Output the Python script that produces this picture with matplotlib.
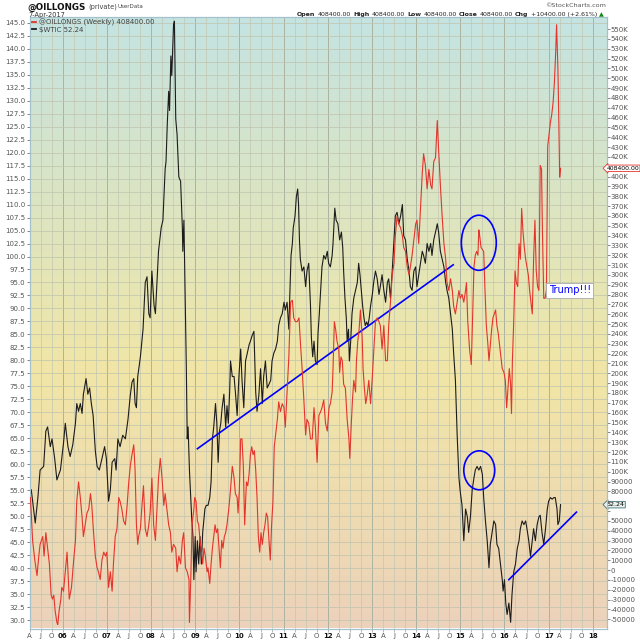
import matplotlib
matplotlib.use('Agg')
import matplotlib.pyplot as plt
import matplotlib.transforms as mtransforms
from matplotlib.patches import Ellipse
from matplotlib.lines import Line2D
from matplotlib.colors import to_rgb
import numpy as np

# ---- values, x is the fractional year ----
wtic_year = [
    2005.29, 2005.38, 2005.44, 2005.49, 2005.57, 2005.62, 2005.66, 2005.72, 2005.76, 2005.82,
    2005.87, 2005.95, 2006.02, 2006.06, 2006.12, 2006.17, 2006.23, 2006.29, 2006.32, 2006.36,
    2006.40, 2006.44, 2006.47, 2006.53, 2006.57, 2006.61, 2006.65, 2006.69, 2006.74, 2006.78,
    2006.83, 2006.89, 2006.95, 2006.99, 2007.04, 2007.08, 2007.12, 2007.18, 2007.21, 2007.25,
    2007.30, 2007.36, 2007.42, 2007.48, 2007.53, 2007.57, 2007.61, 2007.64, 2007.67, 2007.70,
    2007.76, 2007.82, 2007.87, 2007.91, 2007.95, 2007.98, 2008.02, 2008.07, 2008.10, 2008.13,
    2008.17, 2008.23, 2008.27, 2008.32, 2008.34, 2008.37, 2008.40, 2008.42, 2008.45, 2008.47,
    2008.51, 2008.53, 2008.56, 2008.59, 2008.63, 2008.67, 2008.71, 2008.72, 2008.745, 2008.77,
    2008.80, 2008.82, 2008.84, 2008.87, 2008.90, 2008.92, 2008.95, 2008.97, 2009.00, 2009.02,
    2009.05, 2009.08, 2009.11, 2009.14, 2009.17, 2009.22, 2009.25, 2009.29, 2009.33, 2009.36,
    2009.39, 2009.42, 2009.46, 2009.49, 2009.52, 2009.55, 2009.58, 2009.61, 2009.65, 2009.69,
    2009.72, 2009.75, 2009.78, 2009.80, 2009.84, 2009.88, 2009.91, 2009.95, 2009.99, 2010.03,
    2010.06, 2010.10, 2010.14, 2010.18, 2010.22, 2010.25, 2010.29, 2010.33, 2010.37, 2010.40,
    2010.44, 2010.48, 2010.52, 2010.55, 2010.59, 2010.63, 2010.67, 2010.71, 2010.74, 2010.78,
    2010.82, 2010.86, 2010.89, 2010.93, 2010.97, 2011.01, 2011.04, 2011.08, 2011.12, 2011.14,
    2011.17, 2011.20, 2011.22, 2011.26, 2011.29, 2011.32, 2011.34, 2011.36, 2011.38, 2011.42,
    2011.46, 2011.50, 2011.53, 2011.57, 2011.61, 2011.63, 2011.66, 2011.69, 2011.72, 2011.76,
    2011.78, 2011.81, 2011.84, 2011.87, 2011.91, 2011.95, 2011.99, 2012.02, 2012.06, 2012.10,
    2012.12, 2012.16, 2012.19, 2012.23, 2012.27, 2012.31, 2012.34, 2012.36, 2012.39, 2012.42,
    2012.44, 2012.47, 2012.49, 2012.52, 2012.55, 2012.59, 2012.63, 2012.67, 2012.70, 2012.73,
    2012.76, 2012.79, 2012.82, 2012.85, 2012.88, 2012.91, 2012.94, 2012.97, 2013.01, 2013.04,
    2013.08, 2013.12, 2013.16, 2013.19, 2013.23, 2013.27, 2013.31, 2013.35, 2013.38, 2013.42,
    2013.46, 2013.50, 2013.53, 2013.57, 2013.61, 2013.65, 2013.69, 2013.72, 2013.76, 2013.80,
    2013.84, 2013.87, 2013.91, 2013.95, 2013.99, 2014.02, 2014.06, 2014.10, 2014.14, 2014.17,
    2014.21, 2014.25, 2014.29, 2014.33, 2014.36, 2014.40, 2014.44, 2014.48, 2014.51, 2014.55,
    2014.59, 2014.63, 2014.67, 2014.70, 2014.74, 2014.78, 2014.82, 2014.85, 2014.89, 2014.93,
    2014.97, 2015.00, 2015.04, 2015.08, 2015.12, 2015.16, 2015.19, 2015.23, 2015.27, 2015.31,
    2015.34, 2015.38, 2015.42, 2015.46, 2015.50, 2015.53, 2015.57, 2015.61, 2015.65, 2015.68,
    2015.72, 2015.76, 2015.80, 2015.83, 2015.87, 2015.91, 2015.95, 2015.97, 2016.00, 2016.03,
    2016.06, 2016.10, 2016.14, 2016.17, 2016.21, 2016.25, 2016.29, 2016.33, 2016.36, 2016.40,
    2016.44, 2016.48, 2016.51, 2016.55, 2016.59, 2016.63, 2016.66, 2016.70, 2016.74, 2016.78,
    2016.81, 2016.85, 2016.89, 2016.93, 2016.97, 2017.00, 2017.04, 2017.08, 2017.12, 2017.15,
    2017.19, 2017.21, 2017.24, 2017.27,
]
wtic_price = [
    55.1, 48.7, 53.6, 58.9, 59.6, 66.4, 67.2, 63.4, 64.9, 61.1,
    57.0, 58.9, 64.1, 67.9, 63.4, 61.5, 63.8, 67.9, 71.7, 70.2,
    71.7, 69.8, 73.5, 76.5, 73.5, 74.7, 71.7, 69.4, 62.6, 59.6,
    58.9, 61.1, 63.4, 61.1, 52.9, 55.1, 60.4, 61.1, 58.9, 64.9,
    63.4, 65.6, 64.9, 68.7, 73.2, 75.8, 76.5, 71.7, 70.9, 76.9,
    80.7, 86.0, 95.0, 96.1, 89.0, 88.2, 97.2, 90.5, 89.0, 94.2,
    101.0, 105.5, 107.0, 116.8, 118.3, 125.8, 131.8, 128.1, 138.6, 134.8,
    144.6, 145.3, 126.5, 123.5, 115.3, 114.5, 105.5, 101.0, 107.0, 93.5,
    78.4, 64.9, 67.2, 58.9, 53.6, 49.9, 46.1, 37.8, 46.1, 39.3,
    45.3, 40.8, 46.1, 40.8, 46.9, 51.4, 52.1, 52.1, 53.6, 56.6,
    64.9, 67.2, 71.7, 67.9, 60.4, 66.4, 67.9, 70.9, 73.5, 67.2,
    71.3, 67.9, 73.9, 79.9, 76.9, 76.9, 73.9, 69.4, 76.9, 82.2,
    76.2, 70.9, 79.9, 81.4, 83.0, 83.7, 84.8, 85.6, 73.9, 70.2,
    73.2, 78.4, 71.7, 76.9, 79.9, 74.7, 75.4, 76.2, 79.9, 81.4,
    82.2, 83.7, 86.7, 88.2, 89.0, 91.2, 89.7, 91.2, 86.0, 92.0,
    100.2, 102.5, 105.5, 107.8, 111.5, 113.0, 110.0, 103.2, 99.5, 97.2,
    98.0, 94.2, 97.2, 98.7, 90.5, 84.4, 80.7, 83.7, 79.9, 79.2,
    85.2, 89.0, 93.5, 98.0, 100.2, 99.5, 101.0, 98.7, 98.0, 100.2,
    102.5, 109.3, 107.0, 106.3, 103.2, 104.7, 101.7, 97.2, 92.0, 88.2,
    83.7, 86.0, 79.9, 83.7, 89.0, 92.0, 93.5, 95.0, 98.7, 96.5,
    93.5, 90.5, 88.2, 86.7, 87.4, 86.7, 88.2, 90.5, 92.7, 95.0,
    97.2, 95.7, 92.7, 94.2, 96.5, 93.5, 91.2, 95.0, 95.7, 92.0,
    97.2, 103.2, 107.8, 108.5, 106.3, 107.8, 110.0, 104.0, 103.2, 99.5,
    97.2, 94.2, 93.5, 97.2, 98.0, 94.2, 96.5, 98.7, 101.0, 100.2,
    98.7, 102.5, 101.0, 102.5, 100.2, 103.2, 104.7, 106.3, 104.7, 101.0,
    99.5, 98.0, 95.0, 93.5, 92.0, 89.0, 86.0, 81.4, 76.2, 65.6,
    57.4, 54.7, 52.1, 45.3, 51.4, 49.9, 46.9, 49.9, 55.1, 57.4,
    58.9, 59.6, 58.9, 59.6, 58.1, 53.6, 49.1, 45.3, 40.1, 44.6,
    46.9, 49.1, 48.4, 44.6, 43.8, 40.8, 37.8, 35.6, 37.8, 33.3,
    31.1, 33.3, 29.6, 34.8, 39.3, 40.8, 43.8, 45.3, 47.6, 49.1,
    48.4, 49.1, 47.6, 45.3, 42.3, 45.3, 47.6, 45.3, 48.4, 49.9,
    50.2, 46.9, 44.6, 47.6, 51.4, 52.9, 53.6, 53.3, 53.6, 53.6,
    51.4, 48.4, 49.1, 52.24,
]

# @OILLONGS net position, thousands
oil_year = [
    2005.27, 2005.29, 2005.32, 2005.37, 2005.42, 2005.46, 2005.49, 2005.55, 2005.58, 2005.62,
    2005.66, 2005.70, 2005.74, 2005.77, 2005.80, 2005.83, 2005.87, 2005.89, 2005.92, 2005.96,
    2005.98, 2006.02, 2006.06, 2006.10, 2006.12, 2006.15, 2006.20, 2006.25, 2006.29, 2006.32,
    2006.36, 2006.40, 2006.44, 2006.47, 2006.51, 2006.55, 2006.59, 2006.63, 2006.66, 2006.70,
    2006.74, 2006.78, 2006.81, 2006.85, 2006.89, 2006.93, 2006.97, 2007.00, 2007.04, 2007.08,
    2007.12, 2007.15, 2007.19, 2007.23, 2007.27, 2007.30, 2007.34, 2007.38, 2007.42, 2007.46,
    2007.49, 2007.53, 2007.57, 2007.61, 2007.64, 2007.67, 2007.70, 2007.72, 2007.76, 2007.79,
    2007.83, 2007.87, 2007.91, 2007.95, 2007.98, 2008.02, 2008.06, 2008.10, 2008.13, 2008.17,
    2008.21, 2008.25, 2008.29, 2008.32, 2008.36, 2008.40, 2008.44, 2008.47, 2008.51, 2008.56,
    2008.59, 2008.63, 2008.67, 2008.71, 2008.74, 2008.78, 2008.82, 2008.86, 2008.87, 2008.90,
    2008.93, 2008.97, 2008.99, 2009.02, 2009.05, 2009.08, 2009.11, 2009.14, 2009.17, 2009.20,
    2009.23, 2009.27, 2009.29, 2009.33, 2009.36, 2009.39, 2009.42, 2009.45, 2009.48, 2009.51,
    2009.54, 2009.57, 2009.60, 2009.63, 2009.66, 2009.69, 2009.72, 2009.76, 2009.80, 2009.84,
    2009.88, 2009.91, 2009.95, 2009.97, 2010.00, 2010.03, 2010.06, 2010.09, 2010.12, 2010.16,
    2010.19, 2010.22, 2010.25, 2010.28, 2010.31, 2010.34, 2010.37, 2010.40, 2010.43, 2010.46,
    2010.49, 2010.52, 2010.55, 2010.58, 2010.61, 2010.64, 2010.67, 2010.70, 2010.73, 2010.76,
    2010.79, 2010.82, 2010.86, 2010.89, 2010.93, 2010.97, 2011.01, 2011.04, 2011.08, 2011.12,
    2011.16, 2011.20, 2011.23, 2011.27, 2011.31, 2011.35, 2011.38, 2011.42, 2011.46, 2011.50,
    2011.53, 2011.57, 2011.61, 2011.65, 2011.69, 2011.72, 2011.76, 2011.80, 2011.84, 2011.87,
    2011.91, 2011.95, 2011.99, 2012.03, 2012.06, 2012.10, 2012.12, 2012.15, 2012.18, 2012.21,
    2012.25, 2012.27, 2012.30, 2012.33, 2012.36, 2012.40, 2012.44, 2012.48, 2012.50, 2012.53,
    2012.56, 2012.59, 2012.63, 2012.65, 2012.68, 2012.71, 2012.74, 2012.78, 2012.80, 2012.83,
    2012.86, 2012.89, 2012.93, 2012.97, 2013.01, 2013.04, 2013.08, 2013.12, 2013.16, 2013.19,
    2013.23, 2013.27, 2013.31, 2013.35, 2013.38, 2013.42, 2013.46, 2013.50, 2013.53, 2013.57,
    2013.61, 2013.65, 2013.69, 2013.72, 2013.76, 2013.80, 2013.84, 2013.87, 2013.91, 2013.95,
    2013.99, 2014.02, 2014.06, 2014.10, 2014.14, 2014.17, 2014.21, 2014.25, 2014.29, 2014.33,
    2014.36, 2014.40, 2014.44, 2014.48, 2014.51, 2014.55, 2014.59, 2014.63, 2014.67, 2014.70,
    2014.74, 2014.78, 2014.82, 2014.85, 2014.89, 2014.93, 2014.97, 2015.00, 2015.04, 2015.08,
    2015.12, 2015.14, 2015.17, 2015.21, 2015.25, 2015.28, 2015.31, 2015.34, 2015.37, 2015.40,
    2015.42, 2015.44, 2015.47, 2015.50, 2015.53, 2015.56, 2015.59, 2015.62, 2015.65, 2015.68,
    2015.71, 2015.74, 2015.77, 2015.80, 2015.83, 2015.86, 2015.89, 2015.92, 2015.95, 2015.99,
    2016.02, 2016.05, 2016.08, 2016.11, 2016.14, 2016.16, 2016.18, 2016.21, 2016.24, 2016.27,
    2016.30, 2016.33, 2016.36, 2016.39, 2016.42, 2016.45, 2016.48, 2016.51, 2016.54, 2016.57,
    2016.60, 2016.63, 2016.66, 2016.69, 2016.72, 2016.75, 2016.78, 2016.81, 2016.84, 2016.86,
    2016.89, 2016.92, 2016.95, 2016.98, 2017.01, 2017.04, 2017.07, 2017.10, 2017.13, 2017.16,
    2017.18, 2017.21, 2017.23, 2017.25, 2017.27,
]
oil_net_k = [
    73.8, 57.9, 30.1, 10.2, -5.7, 14.2, 26.1, 34.1, 14.2, 38.0,
    22.2, 6.3, -25.5, -29.5, -25.5, -41.4, -53.3, -55.3, -41.4, -29.5,
    -17.6, -21.5, -1.7, 18.2, -1.7, -29.5, -17.6, 10.2, 30.1, 69.8,
    89.6, 73.8, 53.9, 34.1, 46.0, 57.9, 61.9, 77.7, 65.8, 38.0,
    14.2, 2.3, -1.7, -9.6, 10.2, 18.2, 14.2, 18.2, -17.6, -1.7,
    -21.5, 6.3, 34.1, 42.0, 73.8, 69.8, 61.9, 49.9, 46.0, 65.8,
    85.7, 105.5, 117.4, 127.4, 101.6, 46.0, 26.1, 34.1, 42.0, 61.9,
    85.7, 42.0, 34.1, 46.0, 57.9, 93.6, 46.0, 30.1, 57.9, 93.6,
    113.5, 93.6, 65.8, 77.7, 61.9, 46.0, 38.0, 18.2, 26.1, 22.2,
    -1.7, 14.2, 6.3, 30.1, 38.0, 2.3, -1.7, -9.6, -53.3, -9.6,
    46.0, 61.9, 73.8, 69.8, 49.9, 46.0, 30.1, 18.2, 6.3, 22.2,
    14.2, -1.7, 2.3, -13.6, 6.3, 22.2, 34.1, 46.0, 38.0, 42.0,
    22.2, 2.3, 30.1, 22.2, 34.1, 38.0, 46.0, 61.9, 81.7, 105.5,
    93.6, 77.7, 73.8, 57.9, 81.7, 133.3, 133.3, 105.5, 46.0, 89.6,
    85.7, 97.6, 117.4, 125.4, 117.4, 121.4, 101.6, 73.8, 34.1, 18.2,
    38.0, 26.1, 38.0, 46.0, 57.9, 53.9, 30.1, 10.2, 46.0, 69.8,
    125.4, 137.3, 153.2, 171.0, 161.1, 169.1, 165.1, 145.3, 181.0, 216.7,
    272.3, 274.3, 256.4, 252.5, 252.5, 256.4, 232.6, 204.8, 173.0, 137.3,
    153.2, 149.2, 133.3, 133.3, 165.1, 145.3, 109.5, 157.2, 161.1, 165.1,
    173.0, 149.2, 141.3, 165.1, 169.1, 181.0, 204.8, 252.5, 244.5, 232.6,
    224.7, 200.8, 216.7, 212.8, 188.9, 184.9, 153.2, 133.3, 113.5, 145.3,
    173.0, 192.9, 181.0, 212.8, 232.6, 244.5, 264.4, 236.6, 204.8, 184.9,
    169.1, 177.0, 192.9, 169.1, 196.9, 220.7, 252.5, 256.4, 252.5, 248.5,
    224.7, 248.5, 212.8, 212.8, 248.5, 272.3, 300.1, 312.0, 339.8, 359.7,
    351.7, 347.8, 339.8, 327.9, 323.9, 308.1, 300.1, 308.1, 320.0, 335.8,
    351.7, 355.7, 331.9, 367.6, 403.4, 423.2, 411.3, 387.5, 407.3, 391.4,
    387.5, 415.3, 419.2, 457.0, 427.2, 391.4, 359.7, 331.9, 316.0, 292.2,
    284.2, 296.1, 284.2, 268.3, 260.4, 272.3, 284.2, 276.3, 280.3, 272.3,
    284.2, 292.2, 252.5, 224.7, 208.8, 260.4, 308.1, 320.0, 323.9, 320.0,
    345.8, 339.8, 327.9, 325.9, 323.9, 284.2, 248.5, 232.6, 212.8, 228.6,
    244.5, 256.4, 260.4, 264.4, 248.5, 240.5, 228.6, 216.7, 204.8, 200.8,
    192.9, 165.1, 184.9, 204.8, 188.9, 159.1, 212.8, 252.5, 304.1, 292.2,
    288.2, 331.9, 316.0, 367.6, 343.8, 327.9, 316.0, 308.1, 300.1, 284.2,
    272.3, 260.4, 316.0, 355.7, 304.1, 288.2, 284.2, 411.3, 407.3, 343.8,
    276.3, 276.3, 284.2, 431.2, 443.1, 455.0, 462.9, 474.8, 494.7, 526.5,
    554.3, 510.6, 458.9, 399.4, 408.4,
]

# hand drawn trend lines (WTIC scale)
trend1_year = [2009.05, 2014.84]
trend1_price = [63.0, 98.4]
trend2_year = [2016.10, 2017.63]
trend2_price = [37.8, 50.8]

assert len(wtic_year) == len(wtic_price)
assert len(oil_year) == len(oil_net_k)

W, H = 640, 640
RED = '#e4342c'
BLK = '#1c1c1c'
BLUE = '#0000ff'
TICKC = '#555555'

fig = plt.figure(figsize=(W / 100, H / 100), dpi=100)
fig.patch.set_facecolor('white')
ax = fig.add_axes([29.5 / W, 11.5 / H, 577 / W, 611.5 / H])
ax2 = ax.twinx()

# background gradient, bottom -> top
stops = [(0.0, '#ecd2bb'), (0.42, '#f1e6a6'), (1.0, '#c4e3e2')]
pos = np.linspace(0, 1, 300)
cols = np.zeros((300, 1, 3))
for k in range(3):
    cols[:, 0, k] = np.interp(pos, [s[0] for s in stops], [to_rgb(s[1])[k] for s in stops])
ax.imshow(cols, extent=(0, 1, 0, 1), transform=ax.transAxes, origin='lower',
          aspect='auto', zorder=-10, interpolation='bilinear')

xlo, xhi = 2005.25, 2018.31
ax.set_xlim(xlo, xhi)
ax.set_ylim(28.4, 146.1)
ax2.set_ylim(-59.4, 562.2)

# grid
ax.set_axisbelow(True)
ax.set_yticks(np.arange(30, 145.01, 2.5))
ax.grid(axis='y', color='#bfc3ad', lw=0.5)
qticks = np.arange(2005.25, 2018.01, 0.25)
for q in qticks:
    yr = abs(q - round(q)) < 1e-6
    ax.axvline(q, color='#abb3a0' if yr else '#c3c7b1', lw=0.7 if yr else 0.5, zorder=-5)

# series
ax.plot(wtic_year, wtic_price, color=BLK, lw=0.8, zorder=3)
ax2.plot(oil_year, oil_net_k, color=RED, lw=0.8, zorder=3)

# annotations
ax.plot(trend1_year, trend1_price, color=BLUE, lw=1.2, zorder=4)
ax.plot(trend2_year, trend2_price, color=BLUE, lw=1.2, zorder=4)
ax2.add_patch(Ellipse((2015.42, 332.7), 0.79, 56, fill=False, ec=BLUE, lw=1.2, zorder=5))
ax.add_patch(Ellipse((2015.43, 58.85), 0.70, 7.5, fill=False, ec=BLUE, lw=1.2, zorder=5))
ax2.text(2017.0, 284.5, 'Trump!!!', color=BLUE, fontsize=7, ha='left', va='center', zorder=6,
         bbox=dict(boxstyle='square,pad=0.25', fc='white', ec='#aaaaaa', lw=0.6))

# ticks
def qlabel(t):
    q = int(round((t % 1) * 4)) % 4
    if q == 0:
        return '%02d' % (int(round(t)) % 100)
    return 'AJO'[q - 1]

ax.set_xticks(qticks)
ax.set_xticklabels([qlabel(t) for t in qticks])
for lab, t in zip(ax.get_xticklabels(), qticks):
    if qlabel(t).isdigit():
        lab.set_fontweight('bold')
        lab.set_color('#111111')
    else:
        lab.set_color(TICKC)
ax.tick_params(axis='x', labelsize=5, length=2, width=0.5, pad=1, color='#999999')
ax.set_yticklabels(['%.1f' % v for v in ax.get_yticks()])
ax.tick_params(axis='y', labelsize=5, length=2, width=0.5, pad=1, colors=TICKC)

# right axis: labels hidden where the last-value tags sit on top of them
oil_tag = oil_net_k[-1]
wtic_tag_k = np.interp(wtic_price[-1], ax.get_ylim(), ax2.get_ylim())


def rlabel(v):
    if abs(v - oil_tag) < 6 or abs(v - wtic_tag_k) < 7:
        return ''
    return ('%dK' % v) if v >= 100 else str(int(round(v * 1000)))


rt = np.arange(-50, 550.1, 10)
ax2.set_yticks(rt)
ax2.set_yticklabels([rlabel(v) for v in rt])
ax2.tick_params(axis='y', labelsize=5, length=2, width=0.5, pad=1, colors=TICKC)

for a in (ax, ax2):
    for sp in a.spines.values():
        sp.set_color('#a3c2cb')
        sp.set_linewidth(0.8)

# last value tags on the right axis
tr2 = mtransforms.blended_transform_factory(ax2.transAxes, ax2.transData)
ax2.text(1.0, oil_tag, '%.2f' % (oil_tag * 1000), transform=tr2, fontsize=4.4,
         ha='left', va='center', clip_on=False, zorder=10,
         bbox=dict(boxstyle='larrow,pad=0.12', fc='white', ec=RED, lw=0.6))
tr1 = mtransforms.blended_transform_factory(ax.transAxes, ax.transData)
ax.text(1.0, wtic_price[-1], '%.2f' % wtic_price[-1], transform=tr1, fontsize=4.6,
        ha='left', va='center', clip_on=False, zorder=10,
        bbox=dict(boxstyle='larrow,pad=0.12', fc='#e9f1ef', ec='#3f6f74', lw=0.6))

# legend
handles = [Line2D([], [], color=RED, lw=1.3), Line2D([], [], color=BLK, lw=1.3)]
leg = ax2.legend(handles, ['@OILLONGS (Weekly) 408400.00', '$WTIC 52.24'], loc='upper left',
                 fontsize=5, frameon=False, handlelength=0.7, handletextpad=0.4,
                 borderaxespad=0.1, borderpad=0.2, labelspacing=0.05)
for t in leg.get_texts():
    t.set_color('#444444')

# header
def fy(py):
    return 1 - py / H

fig.text(27 / W, fy(7), '@OILLONGS', fontsize=6.3, fontweight='bold', va='center', color='#111111')
fig.text(88 / W, fy(7), '(private)', fontsize=4.8, va='center', color='#444444')
fig.text(118 / W, fy(7), 'UserData', fontsize=4.0, va='center', color='#444444')
fig.text(28 / W, fy(14.5), '7-Apr-2017', fontsize=4.8, va='center', color='#333333')
fig.text(606 / W, fy(5.5), '\u00a9StockCharts.com', fontsize=4.6, ha='right', va='center',
         color='#555555')

parts = [('Open', dict(fontweight='bold')), ('408400.00', {}),
         ('High', dict(fontweight='bold')), ('408400.00', {}),
         ('Low', dict(fontweight='bold')), ('408400.00', {}),
         ('Close', dict(fontweight='bold')), ('408400.00', {}),
         ('Chg', dict(fontweight='bold')), ('+10400.00 (+2.61%)', {}),
         ('\u25b2', dict(color='#118811'))]
renderer = fig.canvas.get_renderer()
xr = 604
for s, kw in reversed(parts):
    style = dict(fontsize=4.5, color='#222222', ha='right', va='center')
    style.update(kw)
    t = fig.text(xr / W, fy(14.5), s, **style)
    bb = t.get_window_extent(renderer=renderer)
    xr = bb.x0 - 2.2

fig.savefig('out.png', dpi=100)
